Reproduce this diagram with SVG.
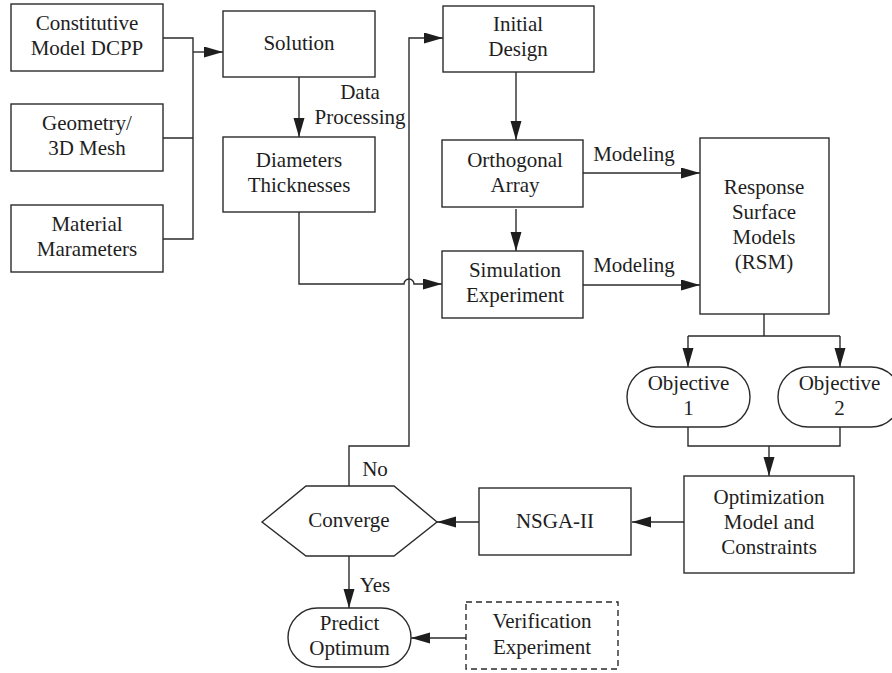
<svg xmlns="http://www.w3.org/2000/svg" width="892" height="673" viewBox="0 0 892 673">
<defs>
<style>
.n{fill:#fff;stroke:#2b2b2b;stroke-width:1.4}
.d{stroke-dasharray:6,4}
.t{font-family:"Liberation Serif","DejaVu Serif",serif;font-size:21px;fill:#1e1e1e;text-anchor:middle}
.c{fill:none;stroke:#2b2b2b;stroke-width:1.4}
.a{marker-end:url(#ah)}
</style>
<marker id="ah" markerUnits="userSpaceOnUse" markerWidth="20" markerHeight="12" refX="19" refY="5.5" orient="auto">
<path d="M0,0 L19,5.5 L0,11 z" fill="#1e1e1e"/>
</marker>
</defs>
<rect width="892" height="673" fill="#fff"/>
<g id="connectors">
<path class="c" d="M163,38 H193 V239 H163 M163,138 H193"/>
<path class="c a" d="M193,52 H223"/>
<path class="c a" d="M299,77 V137"/>
<path class="c a" d="M299,212 V284 H404 A5,5 0 0 1 414,284 H442"/>
<path class="c a" d="M349,486 V446 H409 V38 H443"/>
<path class="c a" d="M516,72 V140"/>
<path class="c a" d="M516,209 V251"/>
<path class="c a" d="M583,173 H700"/>
<path class="c a" d="M583,285 H700"/>
<path class="c" d="M764,314 V336 M688,336 H840"/>
<path class="c a" d="M688,336 V367"/>
<path class="c a" d="M840,336 V367"/>
<path class="c" d="M688,427 V446 H840 V427"/>
<path class="c a" d="M769,446 V476"/>
<path class="c a" d="M684,522 H632"/>
<path class="c a" d="M479,522 H437"/>
<path class="c a" d="M349,556 V608"/>
<path class="c a" d="M466,638 H411"/>
<text class="t" x="360" y="99">Data</text>
<text class="t" x="360" y="124">Processing</text>
<text class="t" x="634" y="161">Modeling</text>
<text class="t" x="634" y="272">Modeling</text>
<text class="t" x="375" y="476">No</text>
<text class="t" x="375" y="592">Yes</text>
</g>
<g id="constitutive"><rect class="n" x="11" y="4" width="152" height="67"/><text class="t" x="87" y="30">Constitutive</text><text class="t" x="87" y="55">Model DCPP</text></g>
<g id="geometry"><rect class="n" x="11" y="104" width="152" height="67"/><text class="t" x="87" y="130">Geometry/</text><text class="t" x="87" y="155">3D Mesh</text></g>
<g id="material"><rect class="n" x="11" y="205" width="152" height="67"/><text class="t" x="87" y="231">Material</text><text class="t" x="87" y="256">Marameters</text></g>
<g id="solution"><rect class="n" x="223" y="11" width="152" height="66"/><text class="t" x="299" y="50">Solution</text></g>
<g id="diameters"><rect class="n" x="223" y="137" width="152" height="75"/><text class="t" x="299" y="167">Diameters</text><text class="t" x="299" y="192">Thicknesses</text></g>
<g id="initial"><rect class="n" x="443" y="6" width="151" height="66"/><text class="t" x="518" y="31">Initial</text><text class="t" x="518" y="56">Design</text></g>
<g id="orthogonal"><rect class="n" x="442" y="140" width="141" height="67"/><text class="t" x="515" y="167">Orthogonal</text><text class="t" x="515" y="192">Array</text></g>
<g id="simulation"><rect class="n" x="442" y="251" width="141" height="67"/><text class="t" x="515" y="277">Simulation</text><text class="t" x="515" y="302">Experiment</text></g>
<g id="rsm"><rect class="n" x="700" y="138" width="129" height="176"/><text class="t" x="764" y="194">Response</text><text class="t" x="764" y="219">Surface</text><text class="t" x="764" y="244">Models</text><text class="t" x="764" y="269">(RSM)</text></g>
<g id="objective1"><rect class="n" x="627" y="367" width="123" height="60" rx="30" ry="30"/><text class="t" x="688.5" y="390">Objective</text><text class="t" x="688.5" y="415">1</text></g>
<g id="objective2"><rect class="n" x="778" y="367" width="123" height="60" rx="30" ry="30"/><text class="t" x="839.5" y="390">Objective</text><text class="t" x="839.5" y="415">2</text></g>
<g id="optimization"><rect class="n" x="684" y="476" width="170" height="97"/><text class="t" x="769" y="504">Optimization</text><text class="t" x="769" y="529">Model and</text><text class="t" x="769" y="554">Constraints</text></g>
<g id="nsga"><rect class="n" x="479" y="488" width="152" height="67"/><text class="t" x="555" y="528">NSGA-II</text></g>
<g id="converge"><polygon class="n" points="262,522 306,486 394,486 437,522 394,556 306,556"/><text class="t" x="349" y="527">Converge</text></g>
<g id="predict"><rect class="n" x="288" y="608" width="123" height="59" rx="29.5" ry="29.5"/><text class="t" x="349.5" y="630">Predict</text><text class="t" x="349.5" y="655">Optimum</text></g>
<g id="verification"><rect class="n d" x="466" y="602" width="152" height="67"/><text class="t" x="542" y="628">Verification</text><text class="t" x="542" y="654">Experiment</text></g>
</svg>
